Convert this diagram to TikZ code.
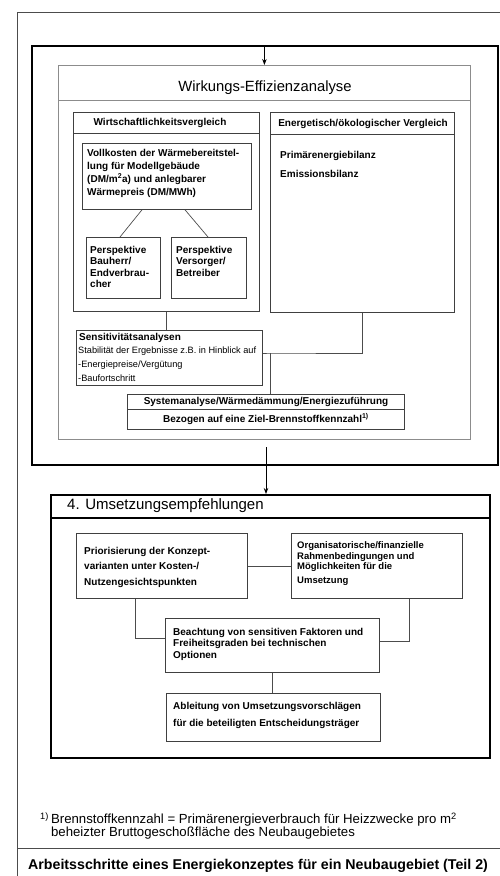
\documentclass[tikz,border=0pt]{standalone}
\usepackage{fontspec}
\setmainfont{Liberation Sans}
\usetikzlibrary{positioning,calc,arrows.meta}

\tikzset{
  box/.style={draw=black!75, line width=0.8pt, rectangle, inner sep=0pt, anchor=north west},
  thinframe/.style={draw=black!45, line width=0.8pt, rectangle, inner sep=0pt, anchor=north west},
  thickframe/.style={draw=black, line width=1.8pt, rectangle, inner sep=0pt, anchor=north west},
  link/.style={draw=black!70, line width=0.7pt},
  arr/.style={-{Stealth[length=6pt,width=4.5pt]}, line width=1pt},
  title/.style={font=\fontsize{14.8}{16}\selectfont, inner sep=0pt},
  head/.style={font=\bfseries\fontsize{10}{12}\selectfont, inner sep=0pt},
  boxtext/.style={font=\bfseries\fontsize{10}{12.5}\selectfont, align=left, inner sep=0pt, anchor=west},
  small/.style={font=\fontsize{9.2}{11}\selectfont, inner sep=0pt, anchor=west}
}

\begin{document}
\begin{tikzpicture}[x=1pt, y=-1pt]
\useasboundingbox (0,0) rectangle (500,876);

% page frame
\draw[black!70, line width=0.7pt] (500,12) -- (17,12) -- (17,876);
\draw[black!70, line width=0.7pt] (17,848) -- (500,848);

% Wirkungs-Effizienzanalyse
\node[thickframe, minimum width=466, minimum height=419] (big) at (31,45) {};
\node[thinframe, minimum width=412, minimum height=374] (wirk) at (58,65) {};
\node[title] (wirktitle) at (265,88) {Wirkungs-Effizienzanalyse};
\draw[black!45, line width=0.8pt] (wirk.west |- 0,100) -- (wirk.east |- 0,100);

\node[box, minimum width=186, minimum height=199] (wirt) at (73,112) {};
\node[head] (wirthead) at (160,123) {Wirtschaftlichkeitsvergleich};
\draw[black!75, line width=0.8pt] (wirt.west |- 0,133) -- (wirt.east |- 0,133);

\node[box, minimum width=169, minimum height=66] (vk) at (82,143) {};
\node[boxtext, font=\bfseries\fontsize{10}{13}\selectfont] (vktext) at (87,173)
  {Vollkosten der Wärmebereitstel-\\lung für Modellgebäude\\(DM/m\textsuperscript{2}a) und anlegbarer\\Wärmepreis (DM/MWh)};

\node[box, minimum width=74, minimum height=61] (bh) at (86,237) {};
\node[boxtext, font=\bfseries\fontsize{10}{11.5}\selectfont] (bhtext) at (90,267)
  {Perspektive\\Bauherr/\\Endverbrau-\\cher};
\node[box, minimum width=75, minimum height=61] (vs) at (171,237) {};
\node[boxtext, font=\bfseries\fontsize{10}{11.5}\selectfont] (vstext) at (176,261)
  {Perspektive\\Versorger/\\Betreiber};

\draw[link] ($(vk.south west)+(60,0)$) -- ($(bh.north west)+(34,0)$);
\draw[link] ($(vk.south west)+(103,0)$) -- ($(vs.north west)+(37,0)$);

\node[box, minimum width=184, minimum height=200] (eko) at (270,112) {};
\node[head] (ekohead) at (363,124) {Energetisch/ökologischer Vergleich};
\draw[black!75, line width=0.8pt] (eko.west |- 0,134) -- (eko.east |- 0,134);
\node[boxtext] (pe) at (280,156) {Primärenergiebilanz};
\node[boxtext] (em) at (280,174) {Emissionsbilanz};

\node[box, minimum width=186, minimum height=55] (sens) at (76,330) {};
\node[boxtext] (senstitle) at (79,338) {Sensitivitätsanalysen};
\node[small] (sens1) at (78,351) {Stabilität der Ergebnisse z.B. in Hinblick auf};
\node[small] (sens2) at (78,365) {-Energiepreise/Vergütung};
\node[small] (sens3) at (78,378) {-Baufortschritt};

\node[box, minimum width=277, minimum height=35] (sys) at (127,394) {};
\draw[black!75, line width=0.8pt] (sys.west |- 0,409) -- (sys.east |- 0,409);
\node[head] (sys1) at (266,401.5) {Systemanalyse/Wärmedämmung/Energiezuführung};
\node[head] (sys2) at (266,419) {Bezogen auf eine Ziel-Brennstoffkennzahl\textsuperscript{1)}};

\coordinate (junc) at (270,353);
\draw[link] (wirt.south) -- (wirt.south |- sens.north);
\draw[link] (eko.south) |- (junc) -- (junc -| sens.east);
\draw[link] (junc) -- (junc |- sys.north);

\draw[arr] (wirk.north |- big.north) -- (wirk.north);

% Umsetzungsempfehlungen
\node[thickframe, minimum width=439, minimum height=263] (umset) at (50,494) {};
\draw[black, line width=1.5pt] (umset.west |- 0,518) -- (umset.east |- 0,518);
\node[title, anchor=west, font=\fontsize{15}{16}\selectfont] (umsettitle) at (67,506) {4. Umsetzungsempfehlungen};

\coordinate (a2) at (266,447);
\draw[arr] (a2) -- (a2 |- umset.north);

\node[box, minimum width=171, minimum height=65] (prio) at (76,533) {};
\node[boxtext, font=\bfseries\fontsize{10}{15.5}\selectfont] (priotext) at (84,567)
  {Priorisierung der Konzept-\\varianten unter Kosten-/\\Nutzengesichtspunkten};
\node[box, minimum width=171, minimum height=65] (org) at (291,533) {};
\node[boxtext, font=\bfseries\fontsize{9.5}{10.5}\selectfont] (orgtext) at (297,564)
  {Organisatorische/finanzielle\\Rahmenbedingungen und\\Möglichkeiten für die\\[3.5pt]Umsetzung};
\draw[link] (prio) -- (org);

\node[box, minimum width=214, minimum height=54] (bea) at (165,618) {};
\node[boxtext, font=\bfseries\fontsize{10}{11.5}\selectfont] (beatext) at (173,644)
  {Beachtung von sensitiven Faktoren und\\Freiheitsgraden bei technischen\\Optionen};
\draw[link] ($(prio.south west)+(59,0)$) |- ($(bea.north west)+(0,20)$);
\draw[link] ($(org.south west)+(118,0)$) |- ($(bea.north east)+(0,23)$);

\node[box, minimum width=214, minimum height=48] (abl) at (166,693) {};
\node[boxtext, font=\bfseries\fontsize{10}{17}\selectfont] (abltext) at (173,715)
  {Ableitung von Umsetzungsvorschlägen\\für die beteiligten Entscheidungsträger};
\draw[link] (bea.south) -- (bea.south |- abl.north);

% footnote and caption
\node[inner sep=0pt, anchor=west, align=left, font=\fontsize{13.2}{12.8}\selectfont] (fn) at (40,826)
  {\textsuperscript{1)}\,Brennstoffkennzahl = Primärenergieverbrauch für Heizzwecke pro m\textsuperscript{2}\\
  \hphantom{\textsuperscript{1)}\,}beheizter Bruttogeschoßfläche des Neubaugebietes};
\node[inner sep=0pt, anchor=west, font=\bfseries\fontsize{14.2}{16}\selectfont] (caption) at (28,866)
  {Arbeitsschritte eines Energiekonzeptes für ein Neubaugebiet (Teil 2)};

\end{tikzpicture}
\end{document}
